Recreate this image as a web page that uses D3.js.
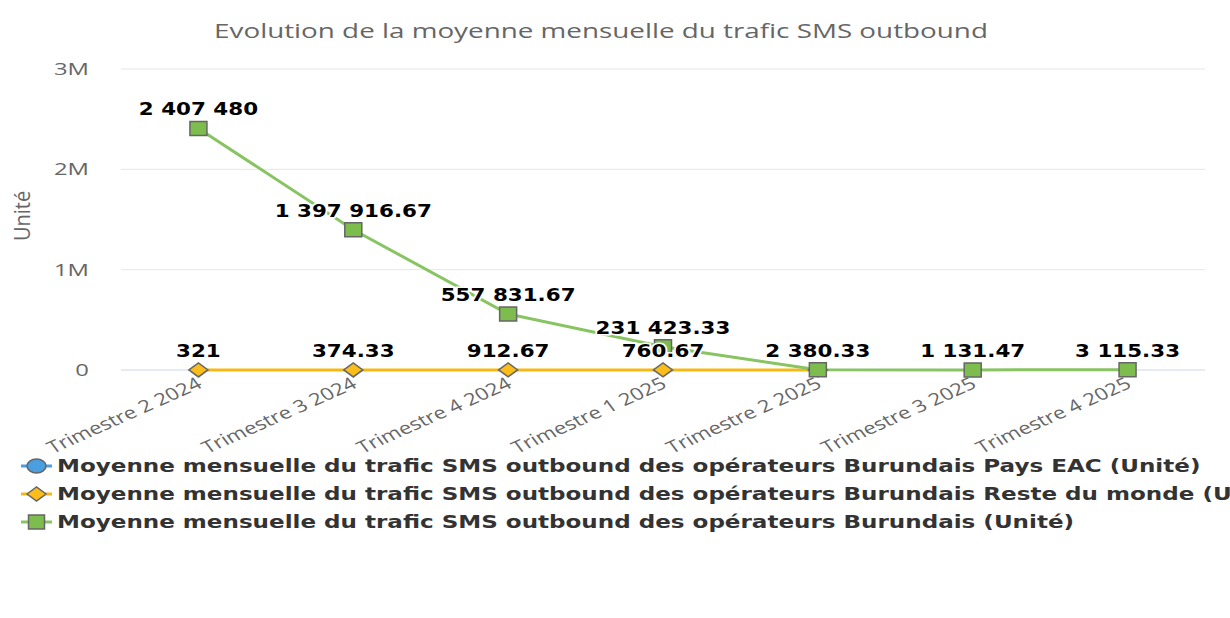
<!DOCTYPE html>
<html lang="fr">
<head>
<meta charset="UTF-8">
<title>Trafic SMS outbound</title>
<script src="https://d3js.org/d3.v7.min.js"></script>
<style>
  body { margin: 0; background: #fff; overflow: hidden; }
  svg { display: block; }
</style>
</head>
<body>
<svg id="chart" width="1230" height="618"></svg>
<script>
// data
const categories = ['Trimestre 2 2024', 'Trimestre 3 2024', 'Trimestre 4 2024', 'Trimestre 1 2025',
                    'Trimestre 2 2025', 'Trimestre 3 2025', 'Trimestre 4 2025'];
const eacValues   = [null, null, null, null, null, null, null];
const resteValues = [321, 374.33, 912.67, 760.67, 650, null, null];
const totalValues = [2407480, 1397916.67, 557831.67, 231423.33, 2380.33, 1131.47, 3115.33];
const yTicks = [0, 1000000, 2000000, 3000000];
const yTickLabels = ['0', '1M', '2M', '3M'];

const seriesNames = [
  'Moyenne mensuelle du trafic SMS outbound des opérateurs Burundais Pays EAC (Unité)',
  'Moyenne mensuelle du trafic SMS outbound des opérateurs Burundais Reste du monde (Unité)',
  'Moyenne mensuelle du trafic SMS outbound des opérateurs Burundais (Unité)'
];

// marker shapes (the picture is a bit wider than tall)
const markerPath = {
  circle:  (w, h) => `M${-w/2},0A${w/2},${h/2} 0 1,0 ${w/2},0A${w/2},${h/2} 0 1,0 ${-w/2},0Z`,
  diamond: (w, h) => `M${-w/2},0L0,${-h/2}L${w/2},0L0,${h/2}Z`,
  square:  (w, h) => `M${-w/2},${-h/2}h${w}v${h}h${-w}Z`
};

const series = [
  { name: seriesNames[0], values: eacValues,   color: '#4a9fe0', fill: '#4a9fe0', marker: 'circle' },
  { name: seriesNames[1], values: resteValues, color: '#f5b914', fill: '#fbbd19', marker: 'diamond' },
  { name: seriesNames[2], values: totalValues, color: '#88c462', fill: '#7cbd4e', marker: 'square' }
];

const svg = d3.select('#chart');
const margin = { left: 121, right: 1205, top: 69, bottom: 370 };

const x = d3.scaleBand().domain(categories).range([margin.left, margin.right]);
const y = d3.scaleLinear().domain([0, 3000000]).range([margin.bottom, margin.top]);
const cx = c => x(c) + x.bandwidth() / 2;

// widen text horizontally like in the picture
function stretch(sel, f) {
  sel.each(function () {
    const len = this.getComputedTextLength();
    d3.select(this).attr('textLength', len * f).attr('lengthAdjust', 'spacingAndGlyphs');
  });
}

// title
svg.append('text')
  .attr('x', 601).attr('y', 38)
  .attr('text-anchor', 'middle')
  .style('font-family', '"Open Sans", sans-serif')
  .style('font-size', '20px')
  .attr('fill', '#666')
  .text('Evolution de la moyenne mensuelle du trafic SMS outbound')
  .call(stretch, 1.39);

// grid
svg.append('g').selectAll('line').data(yTicks).enter().append('line')
  .attr('x1', margin.left).attr('x2', margin.right)
  .attr('y1', d => y(d)).attr('y2', d => y(d))
  .attr('stroke', d => d === 0 ? '#ccd6eb' : '#e6e6e6')
  .attr('stroke-width', 1);

// y axis labels
svg.append('g').selectAll('text').data(yTicks).enter().append('text')
  .attr('x', 89).attr('y', d => y(d) + 6)
  .attr('text-anchor', 'end')
  .style('font-family', '"Open Sans", sans-serif')
  .style('font-size', '17px')
  .attr('fill', '#666')
  .text((d, i) => yTickLabels[i])
  .call(stretch, 1.4);

svg.append('text')
  .attr('transform', 'translate(30,216) scale(1.1,1) rotate(-90)')
  .attr('text-anchor', 'middle')
  .style('font-family', '"Open Sans", sans-serif')
  .style('font-size', '20px')
  .attr('fill', '#666')
  .text('Unité');

// x axis labels
svg.append('g').selectAll('text').data(categories).enter().append('text')
  .attr('transform', d => `translate(${cx(d) + 5},${387}) scale(1.3,1) rotate(-30)`)
  .attr('text-anchor', 'end')
  .style('font-family', '"Open Sans", sans-serif')
  .style('font-size', '17px')
  .attr('fill', '#666')
  .text(d => d);

// lines
const line = d3.line()
  .defined(d => d.v != null)
  .x(d => cx(d.c))
  .y(d => y(d.v));

const pts = s => categories.map((c, i) => ({ c: c, v: s.values[i] }));

series.forEach(s => {
  svg.append('path')
    .datum(pts(s))
    .attr('d', line)
    .attr('fill', 'none')
    .attr('stroke', s.color)
    .attr('stroke-width', 3);
});

series.forEach(s => {
  svg.append('g').selectAll('path')
    .data(pts(s).filter(d => d.v != null)).enter().append('path')
    .attr('transform', d => `translate(${cx(d.c)},${y(d.v)})`)
    .attr('d', markerPath[s.marker](s.marker === 'diamond' ? 19 : 17, 14))
    .attr('fill', s.fill)
    .attr('stroke', '#666')
    .attr('stroke-width', 1.5);
});

// data labels, later series first; hide overlapping ones
const fmt = v => {
  const parts = (Math.round(v * 100) / 100).toString().split('.');
  parts[0] = parts[0].replace(/\B(?=(\d{3})+(?!\d))/g, ' ');
  return parts.join('.');
};
const labelG = svg.append('g');
const boxes = [];
[series[2], series[1], series[0]].forEach(s => {
  pts(s).filter(d => d.v != null).forEach(d => {
    const t = labelG.append('text')
      .attr('x', cx(d.c)).attr('y', y(d.v) - 13)
      .attr('text-anchor', 'middle')
      .style('font-family', '"DejaVu Sans", sans-serif')
      .style('font-weight', 'bold')
      .style('font-size', '17px')
      .attr('fill', '#000')
      .attr('stroke', '#fff').attr('stroke-width', 3).attr('paint-order', 'stroke')
      .text(fmt(d.v))
      .call(stretch, 1.26);
    const b = t.node().getBBox();
    const hit = boxes.some(o => b.x < o.x + o.width && o.x < b.x + b.width &&
                                b.y < o.y + o.height - 4 && o.y < b.y + b.height - 4);
    if (hit) t.remove(); else boxes.push(b);
  });
});

// legend
const legend = svg.append('g').selectAll('g').data(series).enter().append('g')
  .attr('transform', (d, i) => `translate(21,${466 + i * 28})`);
legend.append('line')
  .attr('x1', 0).attr('x2', 31).attr('y1', 0).attr('y2', 0)
  .attr('stroke', d => d.color).attr('stroke-width', 3);
legend.append('path')
  .attr('transform', 'translate(15.5,0)')
  .attr('d', d => markerPath[d.marker](d.marker === 'square' ? 16 : 19, 14))
  .attr('fill', d => d.fill)
  .attr('stroke', '#666').attr('stroke-width', 1.5);
legend.append('text')
  .attr('x', 36).attr('y', 6)
  .style('font-family', '"DejaVu Sans", sans-serif')
  .style('font-weight', 'bold')
  .style('font-size', '18px')
  .attr('fill', '#333')
  .text(d => d.name)
  .call(stretch, 1.28);
</script>
</body>
</html>
